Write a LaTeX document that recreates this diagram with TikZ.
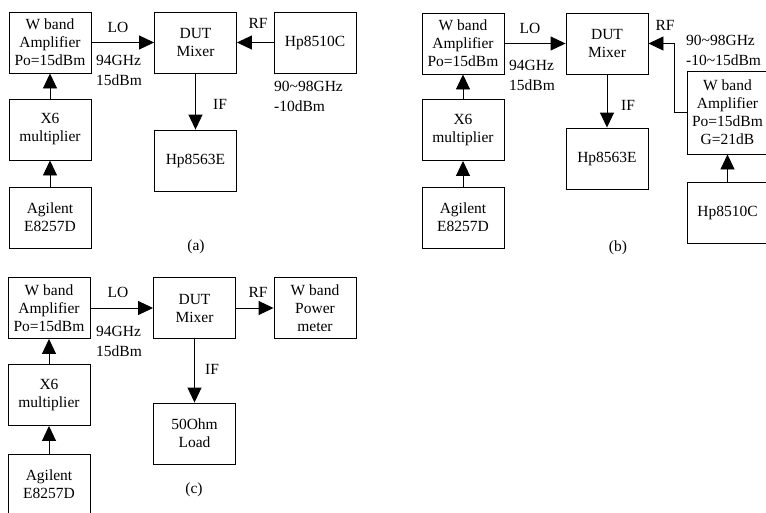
\documentclass[tikz,border=0pt]{standalone}
\usepackage{fontspec}
\setmainfont{Liberation Serif}
\usetikzlibrary{arrows.meta}
\tikzset{
  blk/.style={draw, line width=0.9pt, minimum width=82pt, minimum height=61pt, inner sep=0pt, align=center, font=\fontsize{15.5}{18}\selectfont},
  lbl/.style={inner sep=0pt, align=left, font=\fontsize{15.5}{20}\selectfont},
  arr/.style={line width=0.9pt, -{Triangle[length=15pt,width=14pt]}},
  ln/.style={line width=0.9pt}
}
\begin{document}
\begin{tikzpicture}[x=1pt,y=-1pt]
\useasboundingbox (0,0) rectangle (766,512);
% ---------- (a) ----------
\node[blk] (aamp) at (50,42.5) {W band\\Amplifier\\Po=15dBm};
\node[blk] (ax6) at (50,129.5) {X6\\multiplier};
\node[blk] (aag) at (50,217.5) {Agilent\\E8257D};
\node[blk] (adut) at (195.5,42.5) {DUT\\Mixer};
\node[blk] (ahp10) at (315,42.5) {Hp8510C};
\node[blk] (ahp63) at (195.5,160.5) {Hp8563E};
\draw[arr] (aamp.east) -- (adut.west);
\draw[arr] (ahp10.west) -- (adut.east);
\draw[arr] (adut.south) -- (ahp63.north);
\draw[arr] (ax6.north) -- (aamp.south);
\draw[arr] (aag.north) -- (ax6.south);
\node[lbl] (alo) at (118,27) {LO};
\node[lbl, anchor=west] (afreq) at (96,70) {94GHz\\15dBm};
\node[lbl] (arf) at (258,23) {RF};
\node[lbl, anchor=west] (arff) at (274,96) {90\textasciitilde98GHz\\-10dBm};
\node[lbl] (aif) at (220,104) {IF};
\node[lbl] (acap) at (196,247) {(a)};
% ---------- (b) ----------
\node[blk] (bamp) at (463,43.5) {W band\\Amplifier\\Po=15dBm};
\node[blk] (bx6) at (463,130) {X6\\multiplier};
\node[blk] (bag) at (463,217.5) {Agilent\\E8257D};
\node[blk] (bdut) at (607,43.5) {DUT\\Mixer};
\node[blk] (bhp63) at (607,158.5) {Hp8563E};
\node[blk, minimum width=81pt, minimum height=83pt] (bamp2) at (727.5,112.5) {W band\\Amplifier\\Po=15dBm\\G=21dB};
\node[blk, minimum width=81pt] (bhp10) at (727.5,212.5) {Hp8510C};
\coordinate (bbend) at (674,43.5);
\draw[arr] (bamp.east) -- (bdut.west);
\draw[arr] (bamp2.west) -| (bbend) -- (bdut.east);
\draw[arr] (bdut.south) -- (bhp63.north);
\draw[arr] (bx6.north) -- (bamp.south);
\draw[arr] (bag.north) -- (bx6.south);
\draw[arr] (bhp10.north) -- (bamp2.south);
\node[lbl] (blo) at (530,28) {LO};
\node[lbl, anchor=west] (bfreq) at (509,75) {94GHz\\15dBm};
\node[lbl] (brf) at (665,25) {RF};
\node[lbl, anchor=west] (brff) at (686,50) {90\textasciitilde98GHz\\-10\textasciitilde15dBm};
\node[lbl] (bif) at (628,105) {IF};
\node[lbl] (bcap) at (618,248) {(b)};
% ---------- (c) ----------
\node[blk] (camp) at (49,308) {W band\\Amplifier\\Po=15dBm};
\node[blk] (cx6) at (49,395) {X6\\multiplier};
\node[blk] (cag) at (49,484.5) {Agilent\\E8257D};
\node[blk] (cdut) at (194.5,308) {DUT\\Mixer};
\node[blk] (cpm) at (315,308) {W band\\Power\\meter};
\node[blk] (cload) at (194.5,433.5) {50Ohm\\Load};
\draw[arr] (camp.east) -- (cdut.west);
\draw[arr] (cdut.east) -- (cpm.west);
\draw[arr] (cdut.south) -- (cload.north);
\draw[arr] (cx6.north) -- (camp.south);
\draw[arr] (cag.north) -- (cx6.south);
\node[lbl] (clo) at (118,292) {LO};
\node[lbl, anchor=west] (cfreq) at (96,341) {94GHz\\15dBm};
\node[lbl] (crf) at (258,292) {RF};
\node[lbl] (cif) at (212,369) {IF};
\node[lbl] (ccap) at (194,490) {(c)};
\end{tikzpicture}
\end{document}
